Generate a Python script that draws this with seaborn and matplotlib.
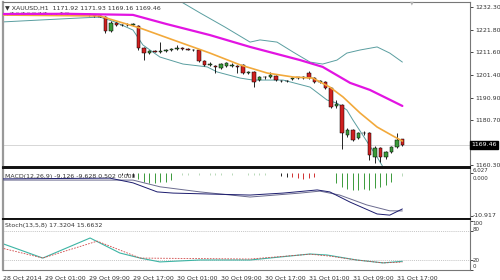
import numpy as np
import pandas as pd
import matplotlib
matplotlib.use("Agg")
import matplotlib.pyplot as plt
import seaborn as sns

# ---------------- data ----------------
opens = [1229.1,1229.3,1229.0,1229.4,1229.2,1229.5,1229.1,1229.3,1229.6,1229.2,
         1229.0,1229.3,1229.5,1229.2,1229.0,1228.8,1229.0,1228.6,1228.3,1227.9,
         1221.3,1225.0,1224.0,1224.2,1224.0,1223.5,1213.6,1211.3,1212.2,1211.8,
         1212.2,1212.8,1213.1,1213.8,1213.2,1212.8,1212.6,1207.7,1205.9,1205.2,
         1204.5,1205.4,1205.4,1205.6,1205.9,1202.4,1202.7,1199.0,1200.4,1200.3,
         1200.8,1198.6,1198.5,1199.6,1200.0,1200.3,1202.2,1199.9,1198.1,1198.2,
         1195.4,1187.2,1187.6,1174.0,1176.2,1172.6,1174.9,1174.9,1163.9,1168.0,
         1163.9,1166.2,1168.5,1171.92]
highs = [1229.7,1229.6,1229.8,1229.7,1229.9,1229.7,1229.6,1230.0,1229.8,1229.5,
         1229.6,1229.8,1229.7,1229.4,1229.3,1229.2,1229.1,1228.9,1228.6,1228.2,
         1225.8,1225.4,1224.6,1224.8,1225.0,1224.0,1214.0,1212.6,1212.6,1216.3,
         1213.2,1213.4,1215.0,1214.2,1213.6,1213.3,1213.0,1208.2,1207.1,1206.0,
         1206.6,1207.2,1207.0,1206.0,1206.3,1203.0,1203.1,1200.8,1201.0,1202.7,
         1201.4,1199.1,1199.2,1200.2,1200.6,1200.8,1203.1,1200.3,1198.8,1198.6,
         1196.0,1190.0,1188.2,1177.0,1176.8,1175.3,1176.0,1175.4,1168.8,1168.6,
         1166.8,1168.9,1174.9,1171.93]
lows = [1228.7,1228.8,1228.9,1228.9,1229.0,1228.8,1228.9,1229.1,1229.0,1228.7,
        1228.8,1229.1,1228.9,1228.7,1228.5,1228.6,1228.3,1227.9,1227.6,1220.6,
        1220.9,1223.6,1223.5,1223.7,1223.6,1212.7,1208.1,1210.8,1211.6,1211.3,
        1211.7,1212.3,1212.8,1212.9,1212.5,1212.2,1207.2,1205.5,1205.3,1202.2,
        1204.2,1205.0,1205.0,1202.0,1201.9,1201.9,1195.9,1198.5,1199.6,1199.9,
        1198.7,1198.0,1198.0,1199.2,1199.6,1199.7,1199.5,1197.6,1197.6,1195.0,
        1186.3,1186.4,1167.8,1173.2,1171.0,1172.0,1174.0,1162.6,1161.4,1161.7,
        1163.2,1165.6,1168.0,1169.16]
closes = [1229.3,1229.0,1229.4,1229.2,1229.5,1229.1,1229.3,1229.6,1229.2,1229.0,
          1229.3,1229.5,1229.2,1229.0,1228.8,1229.0,1228.6,1228.3,1227.9,1221.3,
          1225.0,1224.0,1224.2,1224.0,1224.5,1213.6,1211.3,1212.2,1212.0,1212.3,
          1212.8,1213.0,1213.8,1213.2,1212.8,1212.6,1207.7,1205.9,1206.2,1205.0,
          1206.3,1206.8,1205.6,1205.0,1202.2,1202.7,1198.1,1200.4,1200.2,1201.3,
          1199.0,1198.5,1198.7,1199.9,1200.3,1200.1,1199.9,1198.1,1198.2,1195.4,
          1186.7,1188.3,1175.0,1176.2,1171.7,1174.9,1174.7,1164.9,1168.0,1163.9,
          1166.2,1168.5,1171.7,1169.46]

# moving averages (bar index, price)
ma_slow_x = [0, 12, 24, 30, 38, 45.3, 54.4, 58.5, 63.5, 67.1, 73]
ma_slow_y = [1229.1, 1229.2, 1228.7, 1224.6, 1219.5, 1214.1, 1208.1, 1205.0, 1197.7, 1194.5, 1187.2]
ma_fast_x = [0, 18, 19.8, 25.3, 31.3, 38, 43.5, 48.4, 53.1, 56.7, 59.8, 62.2, 65.3, 68.4, 71.3, 73]
ma_fast_y = [1228.65, 1228.2, 1226.8, 1222.7, 1217.3, 1211.3, 1205.9, 1202.2, 1200.4, 1199.9,
             1195.8, 1191.3, 1184.0, 1177.6, 1173.5, 1171.2]
# Bollinger bands
bb_up_x = [28, 32.2, 36.2, 40.7, 45.3, 47.1, 50.2, 53.1, 56.2, 58.5, 61.1, 62.9, 65.3, 68.4, 70.7, 73]
bb_up_y = [1240.0, 1235.5, 1229.6, 1223.2, 1216.3, 1217.3, 1216.3, 1211.8, 1207.2, 1206.3,
           1208.1, 1211.3, 1212.7, 1214.1, 1211.3, 1207.2]
bb_lo_x = [0, 14.4, 18, 20.7, 24, 25.8, 28.9, 33.1, 37.5, 39.3, 43.5, 45.8, 51.3, 56.2,
           59.3, 61.1, 62.9, 64, 68.4, 69.8, 71.6, 73]
bb_lo_y = [1225.46, 1227.3, 1227.7, 1225.5, 1221.8, 1215.0, 1209.5, 1206.3, 1205.0, 1202.7,
           1199.9, 1199.0, 1199.0, 1195.8, 1189.9, 1188.5, 1185.35, 1180.8, 1163.9, 1158.0,
           1148.9, 1144.0]
last_price = 1169.46

# MACD
macd_x = [0, 19.8, 24, 28.4, 31.3, 45.3, 51.3, 57.5, 59.8, 63.5, 68.4, 70.7, 73]
macd_y = [-1.5, -1.3, -2.5, -4.8, -5.1, -5.6, -5.1, -4.3, -4.8, -7.4, -10.4, -10.7, -9.126]
macd_sig_x = [0, 24, 28.9, 36.2, 45.3, 54.4, 58, 61.6, 66.5, 70.7, 73]
macd_sig_y = [-1.8, -1.8, -3.5, -4.8, -6.1, -5.1, -4.6, -5.6, -8.1, -9.6, -9.628]
hist_x = [22, 23, 24, 25, 26, 27, 28, 29, 30, 31, 33, 34, 36, 38, 39, 40, 42, 45, 46, 47, 48,
          51, 52, 53, 54, 55, 56, 57, 61, 62, 63, 64, 65, 66, 67, 68, 69, 70, 71, 73]
hist_y = [-0.4, -0.6, -1.0, -1.6, -2.2, -2.6, -2.6, -2.4, -2.2, -1.8, -0.6, -0.5, -0.5, -0.5,
          -0.6, -0.5, -0.5, -0.4, -0.4, -0.4, -0.4, -0.8, -0.9, -1.0, -1.2, -1.4, -1.3, -1.0,
          -2.5, -3.5, -4.0, -4.2, -4.2, -4.0, -4.2, -3.8, -3.5, -3.0, -2.2, -0.8]
hist_c = ["k", "k", "k", "g", "g", "g", "g", "g", "g", "g", "f", "f", "f", "f", "f", "f", "f",
          "f", "f", "f", "f", "k", "k", "r", "r", "r", "r", "r",
          "g", "g", "g", "g", "g", "g", "g", "g", "g", "g", "g", "f"]

# Stochastic
st_main_x = [0, 7.6, 16.2, 21.6, 25.3, 28.9, 36.2, 45.3, 56.2, 59.3, 64.7, 69.5, 73]
st_main_y = [55, 24, 65.5, 34.5, 24, 16, 20, 20, 32.4, 30.3, 20, 14, 17.32]
st_sig_x = [0, 7.6, 17.5, 25.3, 45.3, 56.2, 59.8, 64.7, 69.5, 73]
st_sig_y = [45, 24, 59, 24, 22, 32, 28, 20, 14, 15.66]

tick_pos = [0.4, 8, 16, 24, 32, 40, 48, 56, 64, 72]
tick_lab = ["28 Oct 2014", "29 Oct 01:00", "29 Oct 09:00", "29 Oct 17:00", "30 Oct 01:00",
            "30 Oct 09:00", "30 Oct 17:00", "31 Oct 01:00", "31 Oct 09:00", "31 Oct 17:00"]
price_ticks = [1232.30, 1221.80, 1211.60, 1201.40, 1190.90, 1180.70, 1160.30]

# ---------------- style ----------------
sns.set_style("white")
plt.rcParams['font.family'] = ['DejaVu Sans']
FS = 4.5
TXT = "#333333"

fig = plt.figure(figsize=(5, 2.8), dpi=100)
L, W = 3 / 500, 467 / 500
ax1 = fig.add_axes([L, 1 - 167 / 280, W, 165 / 280])
ax2 = fig.add_axes([L, 1 - 219 / 280, W, 51 / 280])
ax3 = fig.add_axes([L, 1 - 270 / 280, W, 51 / 280])
XL = (0.36, 85.3)

# ---------------- main panel ----------------
idx = np.arange(len(closes))
o = np.array(opens); c = np.array(closes); h = np.array(highs); l = np.array(lows)
ax1.axhline(last_price, color="#d0d0d0", lw=0.6, zorder=1)
ax1.vlines(idx, l, h, color="black", lw=0.6, zorder=3)
body_b = np.minimum(o, c)
body_h = np.maximum(np.abs(c - o), 0.25)
cols = np.where(c >= o, "#3a9a3a", "#d02020")
ax1.bar(idx, body_h, bottom=body_b, width=0.62, color=cols, edgecolor="black",
        linewidth=0.35, zorder=4)

sns.lineplot(x=bb_up_x, y=bb_up_y, ax=ax1, color="#5a9ea0", linewidth=0.7, zorder=2)
sns.lineplot(x=bb_lo_x, y=bb_lo_y, ax=ax1, color="#5a9ea0", linewidth=0.7, zorder=2)
sns.lineplot(x=ma_fast_x, y=ma_fast_y, ax=ax1, color="#f2a93b", linewidth=1.2, zorder=5)
sns.lineplot(x=ma_slow_x, y=ma_slow_y, ax=ax1, color="#e214e2", linewidth=1.6, zorder=6)

ax1.set_xlim(*XL)
ax1.set_ylim(1159.37, 1234.58)
ax1.yaxis.tick_right()
ax1.set_yticks(price_ticks)
ax1.set_yticklabels([f"{v:.2f}" for v in price_ticks])
ax1.set_xticks([])
ax1.text(0.004, 0.968, "\u25BC XAUUSD,H1  1171.92 1171.93 1169.16 1169.46", transform=ax1.transAxes,
         fontsize=FS, color=TXT, va="center", ha="left", zorder=10)
ax1.text(1.003, last_price, "1169.46", transform=ax1.get_yaxis_transform(), fontsize=FS,
         color="white", va="center", ha="left",
         bbox=dict(boxstyle="square,pad=0.25", fc="black", ec="black"), zorder=10)
ax1.text(74.8, 1234.2, "\u25BC", fontsize=3.5, color="#b0b0b0", ha="center", va="center")

# ---------------- MACD panel ----------------
hcol = {"k": "#222222", "g": "#3a9a3a", "r": "#d03030", "f": "#b8d8b8"}
ax2.vlines(hist_x, 0, hist_y, colors=[hcol[k] for k in hist_c], lw=0.7, zorder=2)
sns.lineplot(x=macd_sig_x, y=macd_sig_y, ax=ax2, color="#6b6b8f", linewidth=0.7, zorder=3)
sns.lineplot(x=macd_x, y=macd_y, ax=ax2, color="#1c1c6e", linewidth=0.7, zorder=4)
ax2.set_xlim(*XL)
ax2.set_ylim(-11.68, 1.27)
ax2.yaxis.tick_right()
ax2.set_yticks([0, -10.917])
ax2.set_yticklabels([])
ty2 = ax2.get_yaxis_transform()
ax2.text(1.006, 0.95, "6.027", transform=ax2.transAxes, fontsize=4.0, color=TXT, va="center")
ax2.text(1.006, -1.45, "0.000", transform=ty2, fontsize=4.0, color=TXT, va="center")
ax2.text(1.006, -10.917, "-10.917", transform=ty2, fontsize=FS, color=TXT, va="center")
ax2.text(0.004, 0.84, "MACD(12,26,9) -9.126 -9.628 0.502 0.000", transform=ax2.transAxes,
         fontsize=FS, color=TXT, va="center", ha="left", zorder=10)

# ---------------- Stochastic panel ----------------
for lv in (80, 20):
    ax3.axhline(lv, color="#b0b0b0", lw=0.5, ls=(0, (1.5, 1.5)), zorder=1)
sns.lineplot(x=st_sig_x, y=st_sig_y, ax=ax3, color="#d04848", linewidth=0.6, zorder=3)
ax3.lines[-1].set_linestyle((0, (2, 1.5)))
sns.lineplot(x=st_main_x, y=st_main_y, ax=ax3, color="#3cb4a4", linewidth=0.8, zorder=2)
ax3.set_xlim(*XL)
ax3.set_ylim(-0.7, 104.8)
ax3.yaxis.tick_right()
ax3.set_yticks([100, 80, 20, 0])
ax3.set_yticklabels([])
ty = ax3.get_yaxis_transform()
for lab, yv in (("100", 95), ("80", 83), ("20", 19), ("0", 6)):
    ax3.text(1.006, yv, lab, transform=ty, fontsize=4.0, color=TXT, va="center")
ax3.text(0.004, 0.88, "Stoch(13,5,8) 17.3204 15.6632", transform=ax3.transAxes,
         fontsize=FS, color=TXT, va="center", ha="left", zorder=10)
ax3.set_xticks(tick_pos)
ax3.set_xticklabels(tick_lab, ha="left")
ax3.tick_params(axis="x", direction="out", length=3, width=0.6, pad=1, labelsize=FS,
                labelcolor=TXT)

for ax in (ax1, ax2, ax3):
    ax.set_xlabel(""); ax.set_ylabel("")
    ax.tick_params(axis="y", direction="out", length=2, width=0.6, pad=1.5,
                   labelsize=FS, labelcolor=TXT)
    for s in ("left", "right", "top", "bottom"):
        ax.spines[s].set_visible(True)
        ax.spines[s].set_color("#777777")
        ax.spines[s].set_linewidth(0.8)
    ax.set_facecolor("white")
ax1.spines["left"].set_linewidth(1.6)
ax1.spines["left"].set_color("#999999")
for ax in (ax2, ax3):
    ax.spines["left"].set_color("#999999")
    ax.spines["left"].set_linewidth(1.6)
    ax.spines["top"].set_color("#111111")
    ax.spines["top"].set_linewidth(1.4)
ax1.spines["bottom"].set_color("#111111")
ax1.spines["bottom"].set_linewidth(1.4)
ax2.spines["bottom"].set_color("#111111")
ax2.spines["bottom"].set_linewidth(1.4)

fig.savefig("out.png", dpi=100, facecolor="white")
